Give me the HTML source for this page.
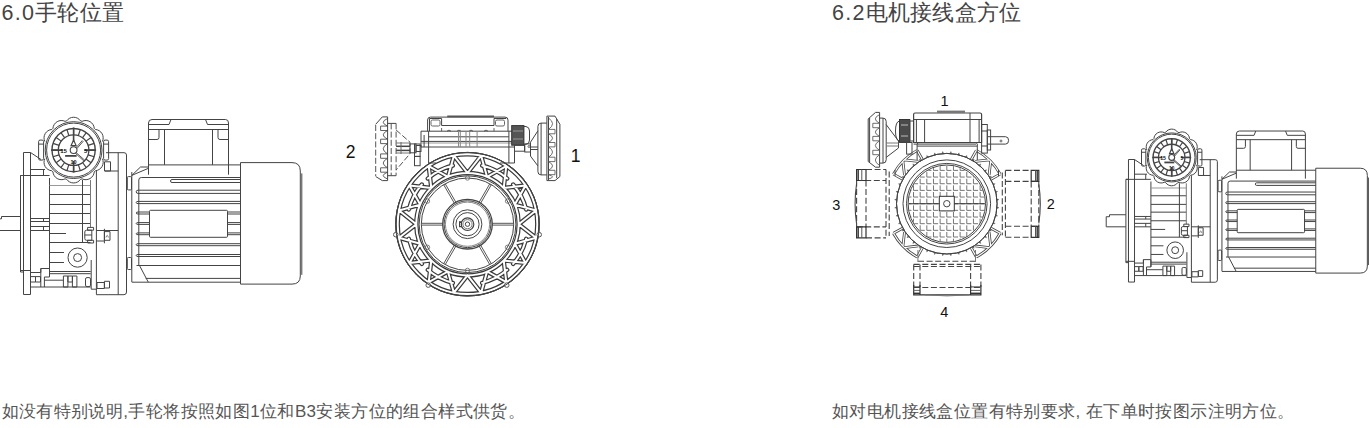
<!DOCTYPE html>
<html><head><meta charset="utf-8">
<style>
html,body{margin:0;padding:0;background:#fff;}
body{width:1369px;height:428px;position:relative;overflow:hidden;font-family:"Liberation Sans",sans-serif;color:#3d3d3d;}
.t{position:absolute;white-space:nowrap;line-height:1;}
.h{font-size:21.5px;top:3px;letter-spacing:0.2px;color:#444;}
.h span{letter-spacing:1.3px;}
.c{font-size:17px;top:402.5px;letter-spacing:0.4px;color:#555;}
svg{position:absolute;left:0;top:0;}
svg text{font-family:"Liberation Sans",sans-serif;}
#d1 path,#d1 rect,#d1 circle{vector-effect:non-scaling-stroke;}
</style></head><body>
<div class="t h" style="left:1.5px"><span>6.0</span>手轮位置</div>
<div class="t h" style="left:832px"><span>6.2</span>电机接线盒方位</div>
<div class="t c" style="left:1.5px">如没有特别说明,手轮将按照如图1位和B3安装方位的组合样式供货。</div>
<div class="t c" style="left:832px">如对电机接线盒位置有特别要求, 在下单时按图示注明方位。</div>
<svg width="1369" height="428" viewBox="0 0 1369 428" fill="none" stroke="#444" stroke-width="1">
<g id="d1">
<path d="M1.5,216.5 H20.5 M-2.3,218.8 H1.5 V216.5 M-2.3,218.8 V230.5 H20.5"/>
<rect x="20.5" y="175.5" width="3" height="96.5"/>
<rect x="23.5" y="152.5" width="7" height="142"/>
<path d="M30.5,152.5 L41,159.5"/>
<path d="M30.5,169.5 L45,169.5"/>
<path d="M20.5,175.5 L49.5,175.5"/>
<path d="M43.5,169.5 L43.5,175.5"/>
<path d="M49.5,178 L49.5,277"/>
<path d="M30.5,218.5 L49.5,218.5"/>
<path d="M30.5,221.5 L49.5,221.5"/>
<path d="M30.5,226.5 L49.5,226.5"/>
<path d="M30.5,230.5 L49.5,230.5"/>
<path d="M43.5,218.5 L43.5,221.5"/>
<path d="M43.5,226.5 L43.5,230.5"/>
<path d="M49.5,194.5 L90.5,194.5"/>
<path d="M49.5,204.5 L90.5,204.5"/>
<path d="M49.5,213.5 L90.5,213.5"/>
<path d="M49.5,223.5 L90.5,223.5"/>
<path d="M49.5,242.5 L90.5,242.5"/>
<path d="M49.5,185.5 L90.5,185.5" stroke="#999"/>
<path d="M49.5,233.5 L66,233.5"/>
<path d="M49.5,252.5 L64,252.5"/>
<path d="M82.5,180 L82.5,242.5"/>
<path d="M90.5,180 L90.5,227.5" stroke="#777"/>
<rect x="87.6" y="227.4" width="6" height="2.8"/>
<rect x="87.6" y="240.3" width="6" height="2.7"/>
<path d="M91.8,230.2 H86.5 Q84.8,230.2 84.8,232 V238.5 Q84.8,240.3 86.5,240.3 H91.8 Z"/>
<path d="M84.8,235 L91.8,235"/>
<circle cx="77.6" cy="257.6" r="9.6"/>
<circle cx="77.6" cy="257.6" r="4"/>
<path d="M49.5,262.5 L64,262.5"/>
<path d="M20.5,270.5 L30.5,270.5"/>
<path d="M30.5,272.5 H40.8 V268.5 H49.5 V277 H44.4 V287"/>
<path d="M40.8,268.5 L40.8,287"/>
<path d="M49.5,271.5 L90.7,271.5"/>
<path d="M49.5,273.7 L90.7,273.7"/>
<path d="M44.4,280.2 L63.4,280.2"/>
<path d="M30.5,287 L90.7,287"/>
<rect x="30.5" y="276.6" width="5" height="5.4"/>
<rect x="35.5" y="276.6" width="5" height="5.4"/>
<rect x="63.4" y="276" width="4.5" height="11"/>
<rect x="67.9" y="276" width="4.5" height="6"/>
<rect x="72.4" y="276" width="4.5" height="11"/>
<rect x="85.5" y="277.6" width="5" height="9" rx="1.5"/>
<path d="M91.2,260 L91.2,289.2"/>
<path d="M91.2,289.2 L96.5,289.2"/>
<path d="M106,152.7 H124 Q126.5,152.7 126.5,155 V292 Q126.5,294.7 124,294.7 H96.4 V171"/>
<path d="M118.2,152.7 L118.2,294.7"/>
<path d="M104.8,171 L118.2,171"/>
<rect x="104.5" y="161.8" width="6" height="9.2"/>
<rect x="97" y="282.5" width="7.4" height="6"/>
<rect x="104.4" y="281.3" width="5.1" height="6.7"/>
<path d="M96.4,230.5 L118.2,230.5"/>
<path d="M96.4,241 L104.4,241"/>
<path d="M104.4,228.8 L104.4,243.3"/>
<rect x="104.4" y="231.6" width="5.6" height="8.7"/>
<path d="M106,237.5 Q107.2,233 108.4,237.5" stroke="#666" stroke-width="0.8"/>
<rect x="127.3" y="176.6" width="4.2" height="13.3" rx="1"/>
<path d="M131.8,172 L131.8,282"/>
<rect x="127.3" y="257.5" width="4.2" height="12" rx="1"/>
<path d="M131.8,175.4 L140.5,167 H148.2 M131.8,175.4 L148.2,168.4"/>
<path d="M138.8,265.5 V180 Q138.8,177.5 141.3,177.5 H240.5"/>
<path d="M148.5,174.7 V123 Q148.5,119.5 152,119.5 H225.5 Q228.5,119.5 228.5,123 V174.7"/>
<path d="M148.5,124.5 L169,124.5"/>
<path d="M169,124.5 L171,119.5"/>
<path d="M207.5,124.5 L228.5,124.5"/>
<path d="M207.5,124.5 L205.5,119.5"/>
<path d="M148.5,129.5 L228.5,129.5"/>
<path d="M164.5,129.5 L164.5,164.9"/>
<path d="M212.5,129.5 L212.5,164.9"/>
<path d="M148.5,139.5 H157 Q159,139.5 159,137.5 V129.5"/>
<path d="M228.5,139.5 H220 Q218,139.5 218,137.5 V129.5"/>
<path d="M148.2,164.9 L240.5,164.9"/>
<path d="M240.5,179.5 H172 Q170.5,179.5 170.5,181 Q170.5,182.5 172,182.5 H240.5"/>
<path d="M240.5,190.2 H138 Q136.2,190.2 136.2,191.8 Q136.2,193.4 138,193.4 H240.5"/>
<path d="M240.5,201.4 H138 Q136.2,201.4 136.2,202.5 Q136.2,203.6 138,203.6 H240.5"/>
<path d="M149.5,212 H138 Q136.2,212 136.2,213 Q136.2,214 138,214 H149.5 M227.5,212 H240.5 M227.5,214 H240.5"/>
<path d="M149.5,222.6 H138 Q136.2,222.6 136.2,223.5 Q136.2,224.4 138,224.4 H149.5 M227.5,222.6 H240.5 M227.5,224.4 H240.5"/>
<path d="M149.5,232.9 H138 Q136.2,232.9 136.2,233.8 Q136.2,234.7 138,234.7 H149.5 M227.5,232.9 H240.5 M227.5,234.7 H240.5"/>
<path d="M240.5,243.7 H138 Q136.2,243.7 136.2,244.7 Q136.2,245.7 138,245.7 H240.5"/>
<path d="M240.5,254.5 H138 Q136.2,254.5 136.2,255.5 Q136.2,256.5 138,256.5 H240.5"/>
<rect x="149.5" y="210.3" width="78" height="27" rx="1"/>
<path d="M136.5,265.5 L240.5,265.5"/>
<path d="M139.5,265.5 L148.3,282.2"/>
<path d="M131.8,282.2 L240.5,282.2"/>
<path d="M145.7,278.4 L240.5,278.4"/>
<path d="M240.5,162.6 H292 Q300.3,162.6 300.3,171 V276 Q300.3,284.1 292,284.1 H240.5 Z"/>
<path d="M301.8,173.4 L301.8,274.8"/>
<circle cx="73.6" cy="150.1" r="30" fill="#fff" stroke="none"/>
<path d="M66.6,120.93 A8.5,8.5 0 0 1 80.6,120.93 L82.12,121.34 M82.12,121.34 A8.5,8.5 0 0 1 94.25,128.34 L95.36,129.45 M95.36,129.45 A8.5,8.5 0 0 1 102.36,141.58 M102.36,158.62 A8.5,8.5 0 0 1 95.36,170.75 L94.25,171.86 M94.25,171.86 A8.5,8.5 0 0 1 82.12,178.86 L80.6,179.27 M80.6,179.27 A8.5,8.5 0 0 1 66.6,179.27 L65.08,178.86 M65.08,178.86 A8.5,8.5 0 0 1 52.95,171.86 L51.84,170.75 M51.84,170.75 A8.5,8.5 0 0 1 44.84,158.62 M44.84,141.58 A8.5,8.5 0 0 1 51.84,129.45 L52.95,128.34 M52.95,128.34 A8.5,8.5 0 0 1 65.08,121.34 L66.6,120.93 "/>
<rect x="38.6" y="140.1" width="5" height="20" rx="1.5"/>
<rect x="103.6" y="140.1" width="5" height="20" rx="1.5"/>
<path d="M38.6,144.1 L43.6,144.1"/>
<path d="M103.6,144.1 L108.6,144.1"/>
<circle cx="73.6" cy="150.1" r="28.4"/>
<circle cx="73.6" cy="150.1" r="27"/>
<circle cx="73.6" cy="150.1" r="21.6" stroke-width="1.4"/>
<circle cx="73.6" cy="150.1" r="15.3" stroke-width="1.3"/>
<path d="M73.6,134.8 L73.6,128.5M78.33,135.55 L80.27,129.56M82.59,137.72 L86.3,132.63M85.98,141.11 L91.07,137.4M88.15,145.37 L94.14,143.43M88.9,150.1 L95.2,150.1M88.15,154.83 L94.14,156.77M85.98,159.09 L91.07,162.8M82.59,162.48 L86.3,167.57M78.33,164.65 L80.27,170.64M73.6,165.4 L73.6,171.7M68.87,164.65 L66.93,170.64M64.61,162.48 L60.9,167.57M61.22,159.09 L56.13,162.8M59.05,154.83 L53.06,156.77M58.3,150.1 L52,150.1M59.05,145.37 L53.06,143.43M61.22,141.11 L56.13,137.4M64.61,137.72 L60.9,132.63M68.87,135.55 L66.93,129.56" stroke-width="1.2"/>
<path d="M73.6,142.1 L73.6,127.6M84.6,150.1 L96.1,150.1M73.6,161.1 L73.6,172.6M62.6,150.1 L51.1,150.1" stroke-width="1.6"/>
<circle cx="73.6" cy="150.1" r="3.4" stroke-width="1.1"/>
<path d="M76,147.7 L82.2,140.7 L83,141.5 L76.8,148.7" stroke-width="0.9"/>
<path d="M76,152.5 L84.6,160.1 L83.8,160.9 L75.2,153.1" stroke-width="0.9"/>
<text x="63.6" y="152.7" font-size="6" text-anchor="middle" fill="#111" stroke="none" font-weight="bold">15</text>
<text x="85.6" y="152.7" font-size="6" text-anchor="middle" fill="#111" stroke="none" font-weight="bold">5</text>
<text x="73.6" y="164.3" font-size="5.5" text-anchor="middle" fill="#111" stroke="none" font-weight="bold">10</text>
<path d="M65.1,155.9 L76.6,155.9" stroke-width="1.8"/>
<path d="M71.1,145.6 L73.6,140.1 L76.1,145.6Z" stroke-width="1.2"/>
</g>
<use href="#d1" transform="translate(1108.2,27.9) scale(0.863)"/>
<text x="350.5" y="157.8" font-size="17.5" text-anchor="middle" fill="#111" stroke="none">2</text>
<text x="575.7" y="161.5" font-size="17.5" text-anchor="middle" fill="#111" stroke="none">1</text>
<path d="M397.7,224.2 A69.8,69.8 0 1 1 537.3,224.2 A69.8,69.8 0 1 1 397.7,224.2M416.3,224.2 A51.2,51.2 0 1 1 518.7,224.2 A51.2,51.2 0 1 1 416.3,224.2 M467.5,173 L481.12,155.74 M467.5,173 L453.88,155.74 M487.09,176.9 L506.28,166.16 M487.09,176.9 L481.12,155.74 M503.7,188 L525.54,185.42 M503.7,188 L506.28,166.16 M514.8,204.61 L535.96,210.58 M514.8,204.61 L525.54,185.42 M518.7,224.2 L535.96,237.82 M518.7,224.2 L535.96,210.58 M514.8,243.79 L525.54,262.98 M514.8,243.79 L535.96,237.82 M503.7,260.4 L506.28,282.24 M503.7,260.4 L525.54,262.98 M487.09,271.5 L481.12,292.66 M487.09,271.5 L506.28,282.24 M467.5,275.4 L453.88,292.66 M467.5,275.4 L481.12,292.66 M447.91,271.5 L428.72,282.24 M447.91,271.5 L453.88,292.66 M431.3,260.4 L409.46,262.98 M431.3,260.4 L428.72,282.24 M420.2,243.79 L399.04,237.82 M420.2,243.79 L409.46,262.98 M416.3,224.2 L399.04,210.58 M416.3,224.2 L399.04,237.82 M420.2,204.61 L409.46,185.42 M420.2,204.61 L399.04,210.58 M431.3,188 L428.72,166.16 M431.3,188 L409.46,185.42 M447.91,176.9 L453.88,155.74 M447.91,176.9 L428.72,166.16 M482.14,165.5 A60.5,60.5 0 0 1 507.19,178.54 M513.16,184.51 A60.5,60.5 0 0 1 526.2,209.56 M526.2,238.84 A60.5,60.5 0 0 1 513.16,263.89 M507.19,269.86 A60.5,60.5 0 0 1 482.14,282.9 M452.86,282.9 A60.5,60.5 0 0 1 427.81,269.86 M421.84,263.89 A60.5,60.5 0 0 1 408.8,238.84 M408.8,209.56 A60.5,60.5 0 0 1 421.84,184.51 M427.81,178.54 A60.5,60.5 0 0 1 452.86,165.5" stroke-width="4.4" stroke-linejoin="round" stroke-linecap="round" stroke="#3a3a3a"/>
<path d="M397.7,224.2 A69.8,69.8 0 1 1 537.3,224.2 A69.8,69.8 0 1 1 397.7,224.2M416.3,224.2 A51.2,51.2 0 1 1 518.7,224.2 A51.2,51.2 0 1 1 416.3,224.2 M467.5,173 L481.12,155.74 M467.5,173 L453.88,155.74 M487.09,176.9 L506.28,166.16 M487.09,176.9 L481.12,155.74 M503.7,188 L525.54,185.42 M503.7,188 L506.28,166.16 M514.8,204.61 L535.96,210.58 M514.8,204.61 L525.54,185.42 M518.7,224.2 L535.96,237.82 M518.7,224.2 L535.96,210.58 M514.8,243.79 L525.54,262.98 M514.8,243.79 L535.96,237.82 M503.7,260.4 L506.28,282.24 M503.7,260.4 L525.54,262.98 M487.09,271.5 L481.12,292.66 M487.09,271.5 L506.28,282.24 M467.5,275.4 L453.88,292.66 M467.5,275.4 L481.12,292.66 M447.91,271.5 L428.72,282.24 M447.91,271.5 L453.88,292.66 M431.3,260.4 L409.46,262.98 M431.3,260.4 L428.72,282.24 M420.2,243.79 L399.04,237.82 M420.2,243.79 L409.46,262.98 M416.3,224.2 L399.04,210.58 M416.3,224.2 L399.04,237.82 M420.2,204.61 L409.46,185.42 M420.2,204.61 L399.04,210.58 M431.3,188 L428.72,166.16 M431.3,188 L409.46,185.42 M447.91,176.9 L453.88,155.74 M447.91,176.9 L428.72,166.16 M482.14,165.5 A60.5,60.5 0 0 1 507.19,178.54 M513.16,184.51 A60.5,60.5 0 0 1 526.2,209.56 M526.2,238.84 A60.5,60.5 0 0 1 513.16,263.89 M507.19,269.86 A60.5,60.5 0 0 1 482.14,282.9 M452.86,282.9 A60.5,60.5 0 0 1 427.81,269.86 M421.84,263.89 A60.5,60.5 0 0 1 408.8,238.84 M408.8,209.56 A60.5,60.5 0 0 1 421.84,184.51 M427.81,178.54 A60.5,60.5 0 0 1 452.86,165.5" stroke-width="2.0" stroke="#fff" stroke-linejoin="round" stroke-linecap="round"/>
<circle cx="467.5" cy="224.2" r="71.8"/>
<rect x="393.56" y="232.47" width="4.4" height="4.4" rx="2" fill="#fff" stroke="#555"/>
<rect x="537.04" y="232.47" width="4.4" height="4.4" rx="2" fill="#fff" stroke="#555"/>
<rect x="426.03" y="282.94" width="4.4" height="4.4" rx="2" fill="#fff" stroke="#555"/>
<rect x="504.57" y="282.94" width="4.4" height="4.4" rx="2" fill="#fff" stroke="#555"/>
<circle cx="467.5" cy="224.2" r="71.8"/>
<circle cx="467.5" cy="224.2" r="48.4"/>
<circle cx="467.5" cy="224.2" r="46.2"/>
<path d=" M492.3,223.3 L513.7,223.3 M492.3,225.1 L513.7,225.1 M480.68,245.23 L491.38,263.76 M479.12,246.13 L489.82,264.66 M455.88,246.13 L445.18,264.66 M454.32,245.23 L443.62,263.76 M442.7,225.1 L421.3,225.1 M442.7,223.3 L421.3,223.3 M454.32,203.17 L443.62,184.64 M455.88,202.27 L445.18,183.74 M479.12,202.27 L489.82,183.74 M480.68,203.17 L491.38,184.64" stroke="#555"/>
<circle cx="467.5" cy="224.2" r="24.8" stroke-width="1.3"/>
<circle cx="467.5" cy="224.2" r="23.4"/>
<circle cx="467.5" cy="224.2" r="22.1" stroke="#888"/>
<circle cx="467.5" cy="224.2" r="14.4"/>
<circle cx="467.5" cy="224.2" r="11.6"/>
<circle cx="467.5" cy="224.2" r="6.3" stroke-width="1.2"/>
<circle cx="467.5" cy="224.2" r="4.6" stroke="#777"/>
<circle cx="467.5" cy="224.2" r="2.2"/>
<rect x="459.5" y="221.7" width="2" height="5"/>
<circle cx="467.5" cy="178" r="2.2" stroke="#666" stroke-width="0.8"/>
<circle cx="507.51" cy="201.1" r="2.2" stroke="#666" stroke-width="0.8"/>
<circle cx="507.51" cy="247.3" r="2.2" stroke="#666" stroke-width="0.8"/>
<circle cx="467.5" cy="270.4" r="2.2" stroke="#666" stroke-width="0.8"/>
<circle cx="427.49" cy="247.3" r="2.2" stroke="#666" stroke-width="0.8"/>
<circle cx="427.49" cy="201.1" r="2.2" stroke="#666" stroke-width="0.8"/>
<path d="M427.6,131.2 V120 Q427.6,117.1 430.5,117.1 H505 Q508,117.1 508,120 V131.2"/>
<path d="M447.2,116.4 L494,116.4" stroke-width="1.8" stroke="#555"/>
<path d="M429.5,118.5 L429.5,131.2"/>
<path d="M429.5,118.5 H441.6 V125.5 H494 V118.5 H506.2"/>
<path d="M441.6,131.2 V128 M494,131.2 V128" stroke="#666"/>
<rect x="431" y="120" width="9" height="6" rx="1.5" stroke="#666"/>
<rect x="495.5" y="120" width="9" height="6" rx="1.5" stroke="#666"/>
<path d="M447,131.2 Q449,129 451,131.2" stroke="#666"/>
<path d="M457,131.2 Q459,129 461,131.2" stroke="#666"/>
<path d="M469,131.2 Q471,129 473,131.2" stroke="#666"/>
<path d="M484,131.2 Q486,129 488,131.2" stroke="#666"/>
<path d="M421,131.2 L514.5,131.2"/>
<path d="M421,131.2 L421,147"/>
<path d="M514.5,131.2 L514.5,163"/>
<path d="M428.6,136.8 L508.9,136.8"/>
<path d="M421,141.4 L514.5,141.4"/>
<path d="M421,143 L514.5,143" stroke="#999"/>
<path d="M421,147 L514.5,147"/>
<path d="M428.6,131.2 L428.6,163"/>
<path d="M508.9,131.2 L508.9,163"/>
<path d="M424.1,135 L424.1,147"/>
<path d="M458.5,131.2 L458.5,147" stroke="#888"/>
<path d="M460.3,131.2 L460.3,147" stroke="#888"/>
<path d="M466,131.2 L466,147" stroke="#888"/>
<path d="M469.7,131.2 L469.7,147" stroke="#888"/>
<path d="M477.1,131.2 L477.1,147" stroke="#888"/>
<path d="M428.6,163 L436,163"/>
<path d="M500,163 L514.5,163"/>
<rect x="414.5" y="144" width="5.6" height="12.4"/>
<rect x="414.5" y="156.4" width="5.6" height="9.3"/>
<rect x="511.7" y="125.6" width="12.2" height="19.6" fill="#555" stroke="#333"/>
<path d="M513,131 L523,131" stroke="#999"/>
<path d="M513,139 L523,139" stroke="#999"/>
<path d="M523.9,126.5 H526 Q529.5,127 529.5,131 V140 Q529.5,144 526,144.3 H523.9" stroke="#444"/>
<rect x="514.5" y="145.2" width="10" height="6"/>
<path d="M375.7,125 L375.7,176" stroke-dasharray="6 2.2" stroke="#555"/>
<path d="M375.7,124.3 L382.3,116.9 H387.6 V180.6 H382.3 L375.7,176.5" stroke="#444"/>
<path d="M387.6,118.5 Q378.85,122.3 387.6,126.1 M380.6,126.1 H387.6 M380.6,130.5 H387.6 M380.6,126.1 V130.5 M387.6,130.5 Q378.85,134.85 387.6,139.2 M380.6,139.2 H387.6 M380.6,143.6 H387.6 M380.6,139.2 V143.6 M387.6,143.6 Q378.85,148.75 387.6,153.9 M380.6,153.9 H387.6 M380.6,158.3 H387.6 M380.6,153.9 V158.3 M387.6,158.3 Q378.85,163.05 387.6,167.8 M380.6,167.8 H387.6 M380.6,172.2 H387.6 M380.6,167.8 V172.2 M387.6,172.2 Q378.85,175.6 387.6,179 " stroke="#444" stroke-width="0.85"/>
<path d="M387.6,123.4 L396.1,123.4"/>
<path d="M387.6,175.7 L396.1,175.7"/>
<path d="M391.2,123.4 L391.2,175.7" stroke-dasharray="6 2.2" stroke="#555"/>
<path d="M396.1,123.4 L396.1,175.7" stroke-dasharray="6 2.2" stroke="#555"/>
<path d="M396.1,130 L410,142.2 V153.7 L396.1,170" stroke-dasharray="6 2.2" stroke="#555"/>
<path d="M396.1,143 L410,143" stroke="#777"/>
<path d="M396.1,146.3 L410,146.3" stroke-width="1.5"/>
<path d="M396.1,150.4 L410,150.4" stroke-width="1.5"/>
<path d="M396.1,153 L410,153" stroke="#777"/>
<path d="M401,142 L401,154" stroke="#666"/>
<rect x="410" y="143.9" width="6" height="8.9"/>
<rect x="416" y="145.5" width="5" height="6"/>
<path d="M546.9,116.1 H555 L559.9,124.3 V176.5 L555,180.6 H546.9 Z"/>
<path d="M556.7,119 L556.7,178"/>
<path d="M548.5,117 L548.5,180"/>
<path d="M548.5,118 Q556.62,123.7 548.5,129.4 M555,129.4 H548.5 M555,133.8 H548.5 M555,129.4 V133.8 M548.5,133.8 Q556.62,138.15 548.5,142.5 M555,142.5 H548.5 M555,146.9 H548.5 M555,142.5 V146.9 M548.5,146.9 Q556.62,152.05 548.5,157.2 M555,157.2 H548.5 M555,161.6 H548.5 M555,157.2 V161.6 M548.5,161.6 Q556.62,165.95 548.5,170.3 M555,170.3 H548.5 M555,174.7 H548.5 M555,170.3 V174.7 M548.5,174.7 Q556.62,176.85 548.5,179 " stroke="#555" stroke-width="0.85"/>
<path d="M546.9,123.1 H541 Q537.9,123.1 537.9,126.5 V171.5 Q537.9,174.9 541,174.9 H546.9"/>
<path d="M541.1,123.1 L541.1,174.9"/>
<path d="M537.9,130.8 L530.5,142.2 V156.1 L537.9,165.9"/>
<rect x="524.8" y="143.9" width="5.7" height="8.1"/>
<path d="M530.5,147 L537.9,147"/>
<path d="M530.5,149.5 L537.9,149.5"/>
<circle cx="529" cy="146.5" r="1" stroke-width="0.8"/>
<text x="944.6" y="105.6" font-size="14.5" text-anchor="middle" fill="#111" stroke="none">1</text>
<text x="836.4" y="209.6" font-size="14.5" text-anchor="middle" fill="#111" stroke="none">3</text>
<text x="1050.8" y="209.4" font-size="14.5" text-anchor="middle" fill="#111" stroke="none">2</text>
<text x="944.4" y="317" font-size="14.5" text-anchor="middle" fill="#111" stroke="none">4</text>
<clipPath id="gc"><circle cx="946.8" cy="203.7" r="38.2"/></clipPath>
<g clip-path="url(#gc)"><path d="M906.84,158.74 V163.74 H911.44 M906.84,165.4 V170.4 H911.44 M906.84,172.06 V177.06 H911.44 M906.84,178.72 V183.72 H911.44 M906.84,185.38 V190.38 H911.44 M906.84,192.04 V197.04 H911.44 M906.84,198.7 V203.7 H911.44 M906.84,205.36 V210.36 H911.44 M906.84,212.02 V217.02 H911.44 M906.84,218.68 V223.68 H911.44 M906.84,225.34 V230.34 H911.44 M906.84,232 V237 H911.44 M906.84,238.66 V243.66 H911.44 M913.5,158.74 V163.74 H918.1 M913.5,165.4 V170.4 H918.1 M913.5,172.06 V177.06 H918.1 M913.5,178.72 V183.72 H918.1 M913.5,185.38 V190.38 H918.1 M913.5,192.04 V197.04 H918.1 M913.5,198.7 V203.7 H918.1 M913.5,205.36 V210.36 H918.1 M913.5,212.02 V217.02 H918.1 M913.5,218.68 V223.68 H918.1 M913.5,225.34 V230.34 H918.1 M913.5,232 V237 H918.1 M913.5,238.66 V243.66 H918.1 M920.16,158.74 V163.74 H924.76 M920.16,165.4 V170.4 H924.76 M920.16,172.06 V177.06 H924.76 M920.16,178.72 V183.72 H924.76 M920.16,185.38 V190.38 H924.76 M920.16,192.04 V197.04 H924.76 M920.16,198.7 V203.7 H924.76 M920.16,205.36 V210.36 H924.76 M920.16,212.02 V217.02 H924.76 M920.16,218.68 V223.68 H924.76 M920.16,225.34 V230.34 H924.76 M920.16,232 V237 H924.76 M920.16,238.66 V243.66 H924.76 M926.82,158.74 V163.74 H931.42 M926.82,165.4 V170.4 H931.42 M926.82,172.06 V177.06 H931.42 M926.82,178.72 V183.72 H931.42 M926.82,185.38 V190.38 H931.42 M926.82,192.04 V197.04 H931.42 M926.82,198.7 V203.7 H931.42 M926.82,205.36 V210.36 H931.42 M926.82,212.02 V217.02 H931.42 M926.82,218.68 V223.68 H931.42 M926.82,225.34 V230.34 H931.42 M926.82,232 V237 H931.42 M926.82,238.66 V243.66 H931.42 M933.48,158.74 V163.74 H938.08 M933.48,165.4 V170.4 H938.08 M933.48,172.06 V177.06 H938.08 M933.48,178.72 V183.72 H938.08 M933.48,185.38 V190.38 H938.08 M933.48,192.04 V197.04 H938.08 M933.48,198.7 V203.7 H938.08 M933.48,205.36 V210.36 H938.08 M933.48,212.02 V217.02 H938.08 M933.48,218.68 V223.68 H938.08 M933.48,225.34 V230.34 H938.08 M933.48,232 V237 H938.08 M933.48,238.66 V243.66 H938.08 M940.14,158.74 V163.74 H944.74 M940.14,165.4 V170.4 H944.74 M940.14,172.06 V177.06 H944.74 M940.14,178.72 V183.72 H944.74 M940.14,185.38 V190.38 H944.74 M940.14,192.04 V197.04 H944.74 M940.14,198.7 V203.7 H944.74 M940.14,205.36 V210.36 H944.74 M940.14,212.02 V217.02 H944.74 M940.14,218.68 V223.68 H944.74 M940.14,225.34 V230.34 H944.74 M940.14,232 V237 H944.74 M940.14,238.66 V243.66 H944.74 M946.8,158.74 V163.74 H951.4 M946.8,165.4 V170.4 H951.4 M946.8,172.06 V177.06 H951.4 M946.8,178.72 V183.72 H951.4 M946.8,185.38 V190.38 H951.4 M946.8,192.04 V197.04 H951.4 M946.8,198.7 V203.7 H951.4 M946.8,205.36 V210.36 H951.4 M946.8,212.02 V217.02 H951.4 M946.8,218.68 V223.68 H951.4 M946.8,225.34 V230.34 H951.4 M946.8,232 V237 H951.4 M946.8,238.66 V243.66 H951.4 M953.46,158.74 V163.74 H958.06 M953.46,165.4 V170.4 H958.06 M953.46,172.06 V177.06 H958.06 M953.46,178.72 V183.72 H958.06 M953.46,185.38 V190.38 H958.06 M953.46,192.04 V197.04 H958.06 M953.46,198.7 V203.7 H958.06 M953.46,205.36 V210.36 H958.06 M953.46,212.02 V217.02 H958.06 M953.46,218.68 V223.68 H958.06 M953.46,225.34 V230.34 H958.06 M953.46,232 V237 H958.06 M953.46,238.66 V243.66 H958.06 M960.12,158.74 V163.74 H964.72 M960.12,165.4 V170.4 H964.72 M960.12,172.06 V177.06 H964.72 M960.12,178.72 V183.72 H964.72 M960.12,185.38 V190.38 H964.72 M960.12,192.04 V197.04 H964.72 M960.12,198.7 V203.7 H964.72 M960.12,205.36 V210.36 H964.72 M960.12,212.02 V217.02 H964.72 M960.12,218.68 V223.68 H964.72 M960.12,225.34 V230.34 H964.72 M960.12,232 V237 H964.72 M960.12,238.66 V243.66 H964.72 M966.78,158.74 V163.74 H971.38 M966.78,165.4 V170.4 H971.38 M966.78,172.06 V177.06 H971.38 M966.78,178.72 V183.72 H971.38 M966.78,185.38 V190.38 H971.38 M966.78,192.04 V197.04 H971.38 M966.78,198.7 V203.7 H971.38 M966.78,205.36 V210.36 H971.38 M966.78,212.02 V217.02 H971.38 M966.78,218.68 V223.68 H971.38 M966.78,225.34 V230.34 H971.38 M966.78,232 V237 H971.38 M966.78,238.66 V243.66 H971.38 M973.44,158.74 V163.74 H978.04 M973.44,165.4 V170.4 H978.04 M973.44,172.06 V177.06 H978.04 M973.44,178.72 V183.72 H978.04 M973.44,185.38 V190.38 H978.04 M973.44,192.04 V197.04 H978.04 M973.44,198.7 V203.7 H978.04 M973.44,205.36 V210.36 H978.04 M973.44,212.02 V217.02 H978.04 M973.44,218.68 V223.68 H978.04 M973.44,225.34 V230.34 H978.04 M973.44,232 V237 H978.04 M973.44,238.66 V243.66 H978.04 M980.1,158.74 V163.74 H984.7 M980.1,165.4 V170.4 H984.7 M980.1,172.06 V177.06 H984.7 M980.1,178.72 V183.72 H984.7 M980.1,185.38 V190.38 H984.7 M980.1,192.04 V197.04 H984.7 M980.1,198.7 V203.7 H984.7 M980.1,205.36 V210.36 H984.7 M980.1,212.02 V217.02 H984.7 M980.1,218.68 V223.68 H984.7 M980.1,225.34 V230.34 H984.7 M980.1,232 V237 H984.7 M980.1,238.66 V243.66 H984.7 M986.76,158.74 V163.74 H991.36 M986.76,165.4 V170.4 H991.36 M986.76,172.06 V177.06 H991.36 M986.76,178.72 V183.72 H991.36 M986.76,185.38 V190.38 H991.36 M986.76,192.04 V197.04 H991.36 M986.76,198.7 V203.7 H991.36 M986.76,205.36 V210.36 H991.36 M986.76,212.02 V217.02 H991.36 M986.76,218.68 V223.68 H991.36 M986.76,225.34 V230.34 H991.36 M986.76,232 V237 H991.36 M986.76,238.66 V243.66 H991.36 " stroke="#666" stroke-width="0.9"/></g>
<path d="M908.8,203.7 L984.8,203.7" stroke="#333" stroke-width="1.1"/>
<rect x="939.3" y="196.3" width="15" height="14.6" fill="#fff" stroke="#333"/>
<circle cx="946.8" cy="203.7" r="3.2"/>
<circle cx="946.8" cy="203.7" r="38.7"/>
<circle cx="946.8" cy="203.7" r="40.3"/>
<circle cx="946.8" cy="203.7" r="43.8"/>
<circle cx="946.8" cy="203.7" r="50.3"/>
<path d="M949.77,153.69 L950.9,151.56 L951.69,153.84 Z M957.56,154.77 L959.01,152.85 L959.43,155.22 Z M965.08,157.05 L966.81,155.38 L966.86,157.79 Z M972.15,160.49 L974.13,159.11 L973.79,161.49 Z M978.6,164.99 L980.77,163.93 L980.06,166.24 Z M984.26,170.44 L986.57,169.73 L985.51,171.9 Z M989.01,176.71 L991.39,176.37 L990.01,178.35 Z M992.71,183.64 L995.12,183.69 L993.45,185.42 Z M995.28,191.07 L997.65,191.49 L995.73,192.94 Z M996.66,198.81 L998.94,199.6 L996.81,200.73 Z M996.81,206.67 L998.94,207.8 L996.66,208.59 Z M995.73,214.46 L997.65,215.91 L995.28,216.33 Z M993.45,221.98 L995.12,223.71 L992.71,223.76 Z M990.01,229.05 L991.39,231.03 L989.01,230.69 Z M985.51,235.5 L986.57,237.67 L984.26,236.96 Z M980.06,241.16 L980.77,243.47 L978.6,242.41 Z M973.79,245.91 L974.13,248.29 L972.15,246.91 Z M966.86,249.61 L966.81,252.02 L965.08,250.35 Z M959.43,252.18 L959.01,254.55 L957.56,252.63 Z M951.69,253.56 L950.9,255.84 L949.77,253.71 Z M943.83,253.71 L942.7,255.84 L941.91,253.56 Z M936.04,252.63 L934.59,254.55 L934.17,252.18 Z M928.52,250.35 L926.79,252.02 L926.74,249.61 Z M921.45,246.91 L919.47,248.29 L919.81,245.91 Z M915,242.41 L912.83,243.47 L913.54,241.16 Z M909.34,236.96 L907.03,237.67 L908.09,235.5 Z M904.59,230.69 L902.21,231.03 L903.59,229.05 Z M900.89,223.76 L898.48,223.71 L900.15,221.98 Z M898.32,216.33 L895.95,215.91 L897.87,214.46 Z M896.94,208.59 L894.66,207.8 L896.79,206.67 Z M896.79,200.73 L894.66,199.6 L896.94,198.81 Z M897.87,192.94 L895.95,191.49 L898.32,191.07 Z M900.15,185.42 L898.48,183.69 L900.89,183.64 Z M903.59,178.35 L902.21,176.37 L904.59,176.71 Z M908.09,171.9 L907.03,169.73 L909.34,170.44 Z M913.54,166.24 L912.83,163.93 L915,164.99 Z M919.81,161.49 L919.47,159.11 L921.45,160.49 Z M926.74,157.79 L926.79,155.38 L928.52,157.05 Z M934.17,155.22 L934.59,152.85 L936.04,154.77 Z M941.91,153.84 L942.7,151.56 L943.83,153.69 Z " stroke-width="0.4" stroke="#555" fill="#555"/>
<path d="M976.37,150.35 A61,61 0 0 1 1000.15,174.13 M971.28,159.53 L976.37,150.35 M990.97,179.22 L1000.15,174.13 M975.32,161.42 L989.17,159.82 M989.08,175.18 L990.68,161.33" stroke-width="2.8" stroke="#444" stroke-linejoin="round"/>
<path d="M976.37,150.35 A61,61 0 0 1 1000.15,174.13 M971.28,159.53 L976.37,150.35 M990.97,179.22 L1000.15,174.13 M975.32,161.42 L989.17,159.82 M989.08,175.18 L990.68,161.33" stroke-width="1.2" stroke="#fff" stroke-linejoin="round"/>
<path d="M1000.15,233.27 A61,61 0 0 1 976.37,257.05 M990.97,228.18 L1000.15,233.27 M971.28,247.87 L976.37,257.05 M989.08,232.22 L990.68,246.07 M975.32,245.98 L989.17,247.58" stroke-width="2.8" stroke="#444" stroke-linejoin="round"/>
<path d="M1000.15,233.27 A61,61 0 0 1 976.37,257.05 M990.97,228.18 L1000.15,233.27 M971.28,247.87 L976.37,257.05 M989.08,232.22 L990.68,246.07 M975.32,245.98 L989.17,247.58" stroke-width="1.2" stroke="#fff" stroke-linejoin="round"/>
<path d="M917.23,257.05 A61,61 0 0 1 893.45,233.27 M922.32,247.87 L917.23,257.05 M902.63,228.18 L893.45,233.27 M918.28,245.98 L904.43,247.58 M904.52,232.22 L902.92,246.07" stroke-width="2.8" stroke="#444" stroke-linejoin="round"/>
<path d="M917.23,257.05 A61,61 0 0 1 893.45,233.27 M922.32,247.87 L917.23,257.05 M902.63,228.18 L893.45,233.27 M918.28,245.98 L904.43,247.58 M904.52,232.22 L902.92,246.07" stroke-width="1.2" stroke="#fff" stroke-linejoin="round"/>
<path d="M893.45,174.13 A61,61 0 0 1 917.23,150.35 M902.63,179.22 L893.45,174.13 M922.32,159.53 L917.23,150.35 M904.52,175.18 L902.92,161.33 M918.28,161.42 L904.43,159.82" stroke-width="2.8" stroke="#444" stroke-linejoin="round"/>
<path d="M893.45,174.13 A61,61 0 0 1 917.23,150.35 M902.63,179.22 L893.45,174.13 M922.32,159.53 L917.23,150.35 M904.52,175.18 L902.92,161.33 M918.28,161.42 L904.43,159.82" stroke-width="1.2" stroke="#fff" stroke-linejoin="round"/>
<circle cx="946.8" cy="203.7" r="50.3"/>
<path d="M917.1,160 V144 L918.5,142.6 H975.9 L977.3,144 V160"/>
<path d="M917.1,146.1 L977.3,146.1"/>
<path d="M895,170 L895,176"/>
<path d="M998.5,170 L998.5,176"/>
<path d="M937,111.6 L965,111.6" stroke-width="2" stroke="#777"/>
<path d="M913.6,142.5 V114.5 Q913.6,113 915,113 H980 Q981.6,113 981.6,114.5 V142.5 Z" stroke-width="1.2"/>
<path d="M913.6,119.5 L981.6,119.5"/>
<path d="M916.4,119.5 L916.4,142.5"/>
<path d="M924.6,119.5 L924.6,142.5"/>
<path d="M970,113 L970,142.5"/>
<path d="M979.1,119.5 L979.1,142.5"/>
<path d="M913.6,144.1 L976,144.1"/>
<rect x="899.5" y="119.5" width="10.3" height="22.9" fill="#4a4a4a" stroke="#333"/>
<path d="M901,125 L908,125" stroke="#bbb"/>
<path d="M901,136 L908,136" stroke="#bbb"/>
<path d="M899.3,121 Q895.5,122 895.5,131 Q895.5,140 899.3,141"/>
<rect x="909.8" y="121" width="3.8" height="20"/>
<rect x="981.6" y="124.5" width="5.7" height="28.6"/>
<path d="M981.6,131 L987.3,131"/>
<path d="M981.6,146 L987.3,146"/>
<path d="M987.3,136.7 H1005.5 Q1008.6,136.7 1008.6,140.4 Q1008.6,144.1 1005.5,144.1 H987.3"/>
<circle cx="1001" cy="141" r="1" stroke-width="0.8"/>
<rect x="987.3" y="130" width="3.3" height="20"/>
<path d="M868.2,118.9 L875.5,112.4 H879.6 V167.2 H875.5 L868.2,161.5 Z"/>
<path d="M869.6,118 L869.6,162"/>
<path d="M879.6,114.5 Q871.1,118.9 879.6,123.3 M872.8,123.3 H879.6 M872.8,127.7 H879.6 M872.8,123.3 V127.7 M879.6,127.7 Q871.1,132.05 879.6,136.4 M872.8,136.4 H879.6 M872.8,140.8 H879.6 M872.8,136.4 V140.8 M879.6,140.8 Q871.1,145.55 879.6,150.3 M872.8,150.3 H879.6 M872.8,154.7 H879.6 M872.8,150.3 V154.7 M879.6,154.7 Q871.1,160.1 879.6,165.5 " stroke="#555" stroke-width="0.85"/>
<path d="M879.6,118.1 H883 Q886.2,118.1 886.2,121.5 V159.7 Q886.2,163.1 883,163.1 H879.6"/>
<path d="M883,118.1 L883,163.1"/>
<path d="M886.2,124.6 L898.5,141 V148 L886.2,157.4"/>
<path d="M886.2,143 L898.5,143" stroke="#777"/>
<path d="M886.2,146 L898.5,146" stroke="#777"/>
<rect x="906.6" y="142.5" width="5.4" height="11.6"/>
<path d="M856.6,180.5 L856.6,226.9" stroke-dasharray="6 2.6" stroke="#444" stroke-width="1.1"/>
<path d="M866,180.5 L866,226.9" stroke-dasharray="6 2.6" stroke="#444" stroke-width="1.1"/>
<path d="M886,169.5 L886,237.9" stroke-dasharray="6 2.6" stroke="#444" stroke-width="1.1"/>
<path d="M889.2,171.5 L889.2,235.9" stroke-dasharray="6 2.6" stroke="#444" stroke-width="1.1"/>
<path d="M856.6,180.5 L886,180.5" stroke-dasharray="6 2.6" stroke="#444" stroke-width="1.1"/>
<path d="M856.6,226.9 L886,226.9" stroke-dasharray="6 2.6" stroke="#444" stroke-width="1.1"/>
<path d="M866,169.5 L886,169.5" stroke-dasharray="6 2.6" stroke="#444" stroke-width="1.1"/>
<path d="M866,237.9 L886,237.9" stroke-dasharray="6 2.6" stroke="#444" stroke-width="1.1"/>
<path d="M856.6,169.5 V180.5 H866 V169.5 Z" stroke="#333" stroke-width="1.2"/>
<path d="M858.2,169.5 L858.2,180.5" stroke="#333" stroke-width="1.4"/>
<path d="M861.8,169.5 L861.8,180.5" stroke="#555"/>
<path d="M856.6,226.9 V237.9 H866 V226.9 Z" stroke="#333" stroke-width="1.2"/>
<path d="M858.2,226.9 L858.2,237.9" stroke="#333" stroke-width="1.4"/>
<path d="M861.8,226.9 L861.8,237.9" stroke="#555"/>
<path d="M856.6,183.5 Q853.6,203.7 856.6,223.9" stroke="#444" stroke-width="1.1"/>
<path d="M1038.8,181.4 L1038.8,226.3" stroke-dasharray="6 2.6" stroke="#444" stroke-width="1.1"/>
<path d="M1031.2,181.4 L1031.2,226.3" stroke-dasharray="6 2.6" stroke="#444" stroke-width="1.1"/>
<path d="M1005.4,170.4 L1005.4,237.3" stroke-dasharray="6 2.6" stroke="#444" stroke-width="1.1"/>
<path d="M1002.3,172.4 L1002.3,235.3" stroke-dasharray="6 2.6" stroke="#444" stroke-width="1.1"/>
<path d="M1005.4,181.4 L1038.8,181.4" stroke-dasharray="6 2.6" stroke="#444" stroke-width="1.1"/>
<path d="M1005.4,226.3 L1038.8,226.3" stroke-dasharray="6 2.6" stroke="#444" stroke-width="1.1"/>
<path d="M1005.4,170.4 L1031.2,170.4" stroke-dasharray="6 2.6" stroke="#444" stroke-width="1.1"/>
<path d="M1005.4,237.3 L1031.2,237.3" stroke-dasharray="6 2.6" stroke="#444" stroke-width="1.1"/>
<path d="M1038.8,170.4 V181.4 H1031.2 V170.4 Z" stroke="#333" stroke-width="1.2"/>
<path d="M1037.2,170.4 L1037.2,181.4" stroke="#333" stroke-width="1.4"/>
<path d="M1035.5,170.4 L1035.5,181.4" stroke="#555"/>
<path d="M1038.8,226.3 V237.3 H1031.2 V226.3 Z" stroke="#333" stroke-width="1.2"/>
<path d="M1037.2,226.3 L1037.2,237.3" stroke="#333" stroke-width="1.4"/>
<path d="M1035.5,226.3 L1035.5,237.3" stroke="#555"/>
<path d="M1038.8,184.4 Q1041.8,203.85 1038.8,223.3" stroke="#444" stroke-width="1.1"/>
<path d="M918,261.3 L975,261.3" stroke-dasharray="6 2.6" stroke="#444" stroke-width="1.1"/>
<path d="M917.9,250 L917.9,262" stroke="#777"/>
<path d="M975.5,250 L975.5,262" stroke="#777"/>
<path d="M913.7,264.4 L913.7,286.9" stroke-dasharray="6 2.6" stroke="#444" stroke-width="1.1"/>
<path d="M920,264.4 L920,286.9" stroke-dasharray="6 2.6" stroke="#444" stroke-width="1.1"/>
<path d="M970.6,264.4 L970.6,286.9" stroke-dasharray="6 2.6" stroke="#444" stroke-width="1.1"/>
<path d="M980.9,264.4 L980.9,286.9" stroke-dasharray="6 2.6" stroke="#444" stroke-width="1.1"/>
<path d="M913.7,264.4 L980.9,264.4" stroke-dasharray="6 2.6" stroke="#444" stroke-width="1.1"/>
<path d="M913.7,266.5 L980.9,266.5" stroke-dasharray="6 2.6" stroke="#444" stroke-width="1.1"/>
<path d="M913.7,287.5 L980.9,287.5" stroke-dasharray="6 2.6" stroke="#444" stroke-width="1.1"/>
<path d="M913.7,284.9 V294.9 H980.9 V284.9" stroke="#333" stroke-width="1.2"/>
<path d="M913.7,293.3 L920,293.3" stroke="#333" stroke-width="1.4"/>
<path d="M970.6,293.3 L980.9,293.3" stroke="#333" stroke-width="1.4"/>
<path d="M913.7,286.9 L920,286.9" stroke="#444"/>
<path d="M970.6,286.9 L980.9,286.9" stroke="#444"/>
<path d="M913.7,290.4 L920,290.4" stroke="#666"/>
<path d="M970.6,290.4 L980.9,290.4" stroke="#666"/>
<path d="M920,284.9 L920,294.9" stroke="#333" stroke-width="1.2"/>
<path d="M970.6,284.9 L970.6,294.9" stroke="#333" stroke-width="1.2"/>
<path d="M925,294.9 Q947,296.9 969,294.9" stroke="#777"/>
</svg>
</body></html>
